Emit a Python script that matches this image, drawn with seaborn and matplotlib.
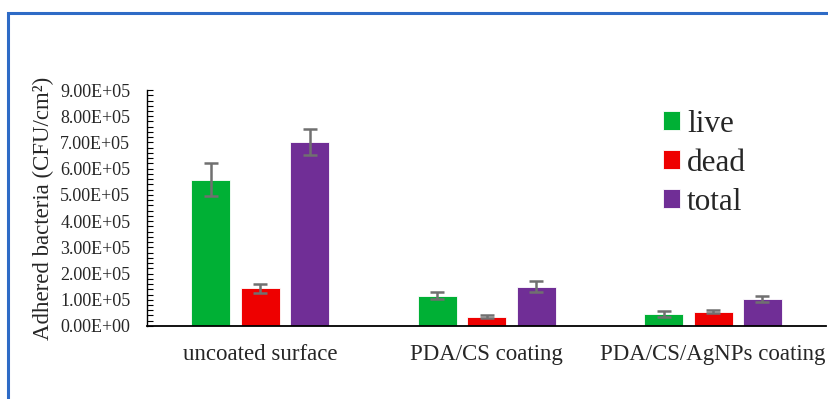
import matplotlib
matplotlib.use("Agg")
import matplotlib.pyplot as plt
import seaborn as sns
import pandas as pd
import numpy as np
from matplotlib.ticker import MultipleLocator, FuncFormatter
from matplotlib.patches import Rectangle

categories = ["uncoated surface", "PDA/CS coating", "PDA/CS/AgNPs coating"]
series = ["live", "dead", "total"]
live_vals = [5.57e5, 1.15e5, 0.46e5]
dead_vals = [1.44e5, 0.36e5, 0.55e5]
total_vals = [7.01e5, 1.50e5, 1.02e5]
live_err = [0.63e5, 0.13e5, 0.10e5]
dead_err = [0.18e5, 0.07e5, 0.06e5]
total_err = [0.50e5, 0.20e5, 0.11e5]
colors = ["#00B035", "#EE0000", "#702E96"]

vals = {"live": live_vals, "dead": dead_vals, "total": total_vals}
errs = {"live": live_err, "dead": dead_err, "total": total_err}
rows = []
for s in series:
    for c, v in zip(categories, vals[s]):
        rows.append({"category": c, "series": s, "value": v})
df = pd.DataFrame(rows)

sns.set_style("white")
plt.rcParams["font.family"] = ["Liberation Serif", "DejaVu Serif"]

fig = plt.figure(figsize=(8.29, 3.99), dpi=100)
ax = fig.add_axes([0.1773, 0.183, 0.8194, 0.5914])

sns.barplot(data=df, x="category", y="value", hue="series", hue_order=series,
            order=categories, palette=colors, width=0.655, gap=0.21,
            errorbar=None, ax=ax, edgecolor="#ffffff", linewidth=0.6,
            saturation=1)

for cont, s in zip(ax.containers, series):
    xs = [b.get_x() + b.get_width() / 2 for b in cont]
    ax.errorbar(xs, vals[s], yerr=errs[s], fmt="none", ecolor="#707070",
                elinewidth=1.8, capsize=5, capthick=1.8, zorder=5)

ax.set_ylim(0, 9e5)
ax.set_xlim(-0.5, 2.5)
ax.yaxis.set_major_locator(MultipleLocator(1e5))
ax.yaxis.set_minor_locator(MultipleLocator(2e4))
ax.yaxis.set_major_formatter(FuncFormatter(lambda v, p: f"{v:.2E}"))
ax.tick_params(axis="y", which="both", direction="in", length=4, width=0.8,
               left=True, labelsize=13, pad=12, color="black")
ax.tick_params(axis="x", length=0, labelsize=16.5, pad=13)
for sp in ["top", "right"]:
    ax.spines[sp].set_visible(False)
ax.spines["left"].set_color("black")
ax.spines["bottom"].set_color("black")
ax.spines["left"].set_linewidth(1.0)
ax.spines["bottom"].set_linewidth(1.3)
ax.set_xlabel("")
ax.set_ylabel("Adhered bacteria (CFU/cm²)", fontsize=16.5, labelpad=4)

leg = ax.legend(loc="upper left", bbox_to_anchor=(0.766, 0.795),
                bbox_transform=fig.transFigure, frameon=False,
                fontsize=22.5, handlelength=0.55, handleheight=0.55,
                handletextpad=0.22, labelspacing=0.32)

fig.patches.append(Rectangle((8 / 829, -0.1), 1.2, 1 - 13 / 399 + 0.1,
                             transform=fig.transFigure, fill=False,
                             edgecolor="#2E6BC6", linewidth=2.2))

fig.savefig("out.png", dpi=100)
